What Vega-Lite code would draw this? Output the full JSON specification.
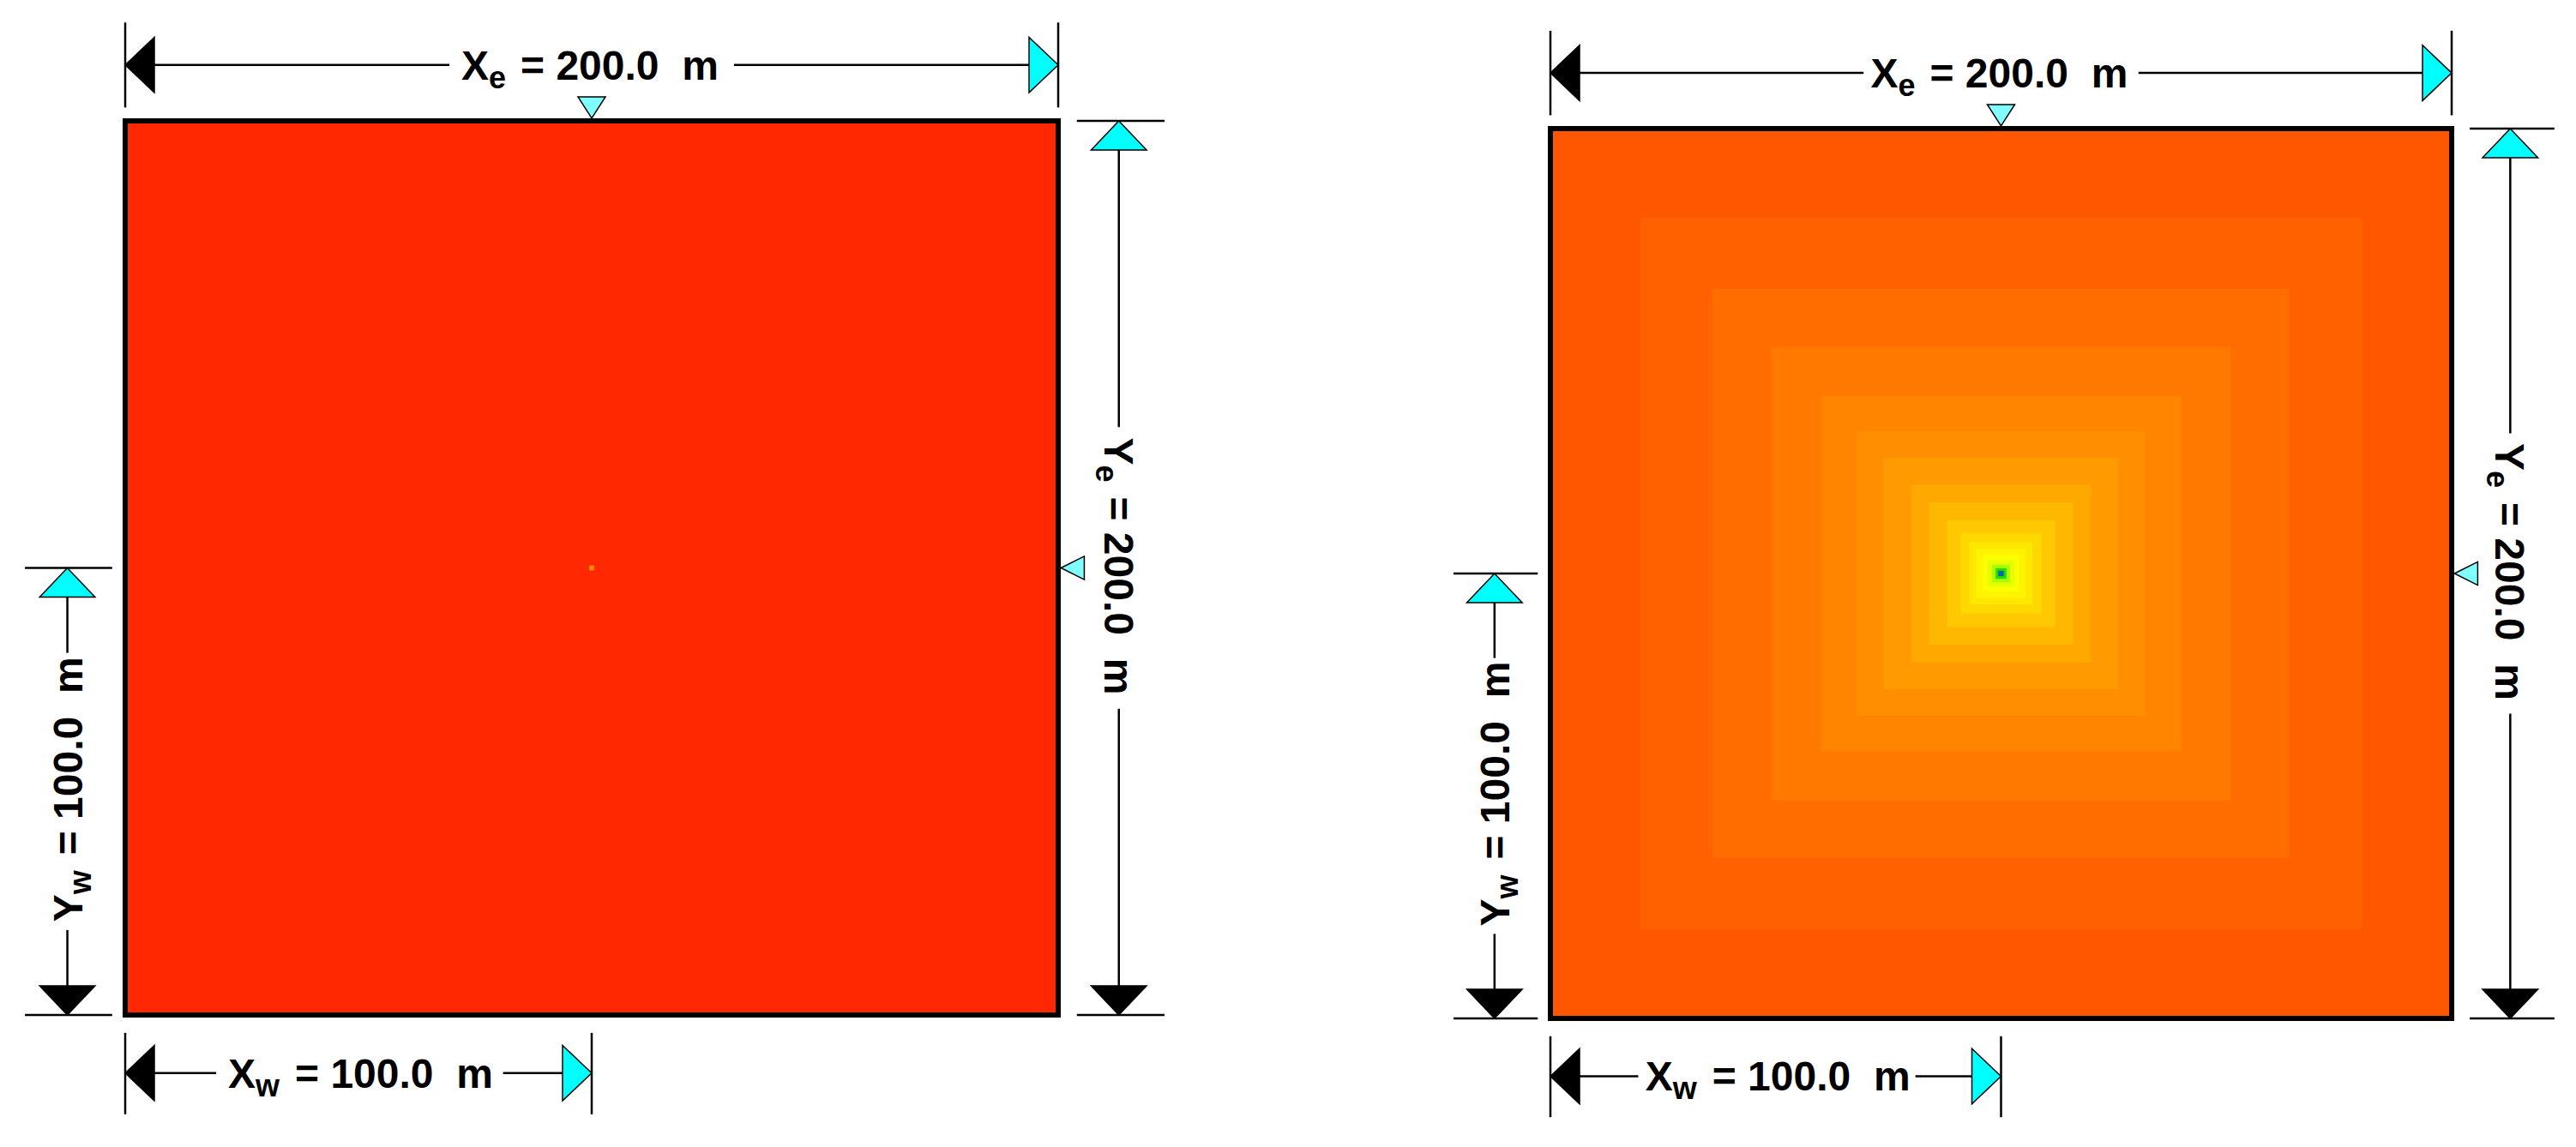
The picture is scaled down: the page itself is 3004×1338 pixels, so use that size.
{
  "$schema": "https://vega.github.io/schema/vega-lite/v6.json",
  "padding": 0,
  "spacing": 0,
  "background": "white",
  "config": {"view": {"stroke": null}, "concat": {"spacing": 0}},
  "datasets": {
    "lines": [
      {"x": 0, "y": 212.5, "x2": 69.5, "y2": 212.5},
      {"x": 130.5, "y": 212.5, "x2": 200, "y2": 212.5},
      {"x": 0, "y": 203, "x2": 0, "y2": 222},
      {"x": 200, "y": 203, "x2": 200, "y2": 222},
      {"x": 213, "y": 200, "x2": 213, "y2": 131.5},
      {"x": 213, "y": 68.5, "x2": 213, "y2": 0},
      {"x": 204, "y": 200, "x2": 222.8, "y2": 200},
      {"x": 204, "y": 0, "x2": 222.8, "y2": 0},
      {"x": -12.4, "y": 100, "x2": -12.4, "y2": 81},
      {"x": -12.4, "y": 19, "x2": -12.4, "y2": 0},
      {"x": -21.5, "y": 100, "x2": -2.8, "y2": 100},
      {"x": -21.5, "y": 0, "x2": -2.8, "y2": 0},
      {"x": 0, "y": -13, "x2": 19.5, "y2": -13},
      {"x": 81, "y": -13, "x2": 100, "y2": -13},
      {"x": 0, "y": -4, "x2": 0, "y2": -22.2},
      {"x": 100, "y": -4, "x2": 100, "y2": -22.2}
    ],
    "arrows": [
      {"x": 0, "y": 212.5, "dir": "left"},
      {"x": 200, "y": 212.5, "dir": "right"},
      {"x": 213, "y": 200, "dir": "up"},
      {"x": 213, "y": 0, "dir": "down"},
      {"x": -12.4, "y": 100, "dir": "up"},
      {"x": -12.4, "y": 0, "dir": "down"},
      {"x": 0, "y": -13, "dir": "left"},
      {"x": 100, "y": -13, "dir": "right"}
    ],
    "labels": [
      {"x": 100, "y": 212.5, "orient": "h", "main": "X", "sub": "e", "rest": "= 200.0\u00a0\u00a0m"},
      {"x": 213, "y": 100, "orient": "down", "main": "Y", "sub": "e", "rest": "= 200.0\u00a0\u00a0m"},
      {"x": -12.4, "y": 50, "orient": "up", "main": "Y", "sub": "w", "rest": "= 100.0\u00a0\u00a0m"},
      {"x": 50, "y": -13, "orient": "h", "main": "X", "sub": "w", "rest": "= 100.0\u00a0\u00a0m"}
    ],
    "frame": [{"x": 0, "x2": 200, "y": 0, "y2": 200}],
    "heatL": [
      {"x": 0, "x2": 200, "y": 0, "y2": 200, "dp": 0},
      {"x": 99.45, "x2": 100.55, "y": 99.45, "y2": 100.55, "dp": 26}
    ],
    "heatR": [
      {"x": 0, "x2": 200, "y": 0, "y2": 200, "dp": 10.5},
      {"x": 20, "x2": 180, "y": 20, "y2": 180, "dp": 13.2},
      {"x": 36, "x2": 164, "y": 36, "y2": 164, "dp": 16.8},
      {"x": 49, "x2": 151, "y": 49, "y2": 151, "dp": 20.3},
      {"x": 60, "x2": 140, "y": 60, "y2": 140, "dp": 23.8},
      {"x": 68, "x2": 132, "y": 68, "y2": 132, "dp": 27},
      {"x": 74, "x2": 126, "y": 74, "y2": 126, "dp": 30.3},
      {"x": 80, "x2": 120, "y": 80, "y2": 120, "dp": 34.4},
      {"x": 84, "x2": 116, "y": 84, "y2": 116, "dp": 39.1},
      {"x": 88, "x2": 112, "y": 88, "y2": 112, "dp": 43.8},
      {"x": 91, "x2": 109, "y": 91, "y2": 109, "dp": 48.5},
      {"x": 93, "x2": 107, "y": 93, "y2": 107, "dp": 53.2},
      {"x": 94.5, "x2": 105.5, "y": 94.5, "y2": 105.5, "dp": 56.8},
      {"x": 96, "x2": 104, "y": 96, "y2": 104, "dp": 60},
      {"x": 97, "x2": 103, "y": 97, "y2": 103, "dp": 64},
      {"x": 98, "x2": 102, "y": 98, "y2": 102, "dp": 72},
      {"x": 98.8, "x2": 101.2, "y": 98.8, "y2": 101.2, "dp": 86},
      {"x": 99.4, "x2": 100.6, "y": 99.4, "y2": 100.6, "dp": 100}
    ]
  },
  "hconcat": [
    {
      "width": 1502,
      "height": 1338,
      "encoding": {
        "x": {"field": "x", "type": "quantitative", "scale": {"domain": [-26.84, 249.26], "nice": false, "zero": false}, "axis": null},
        "y": {"field": "y", "type": "quantitative", "scale": {"domain": [-29.53, 227.04], "nice": false, "zero": false}, "axis": null}
      },
      "layer": [
        {
          "data": {"name": "heatL"},
          "mark": {"type": "rect"},
          "encoding": {
            "x2": {"field": "x2"},
            "y2": {"field": "y2"},
            "color": {"field": "dp", "type": "quantitative", "legend": null,
              "scale": {"domain": [0, 10, 60, 70, 86, 100], "range": ["#ff2800", "#ff5500", "#ffff00", "#c0ff00", "#20e000", "#1060b0"], "interpolate": "rgb"}}
          }
        },
        {
          "data": {"name": "frame"},
          "mark": {"type": "rect", "filled": false, "stroke": "black", "strokeWidth": 6},
          "encoding": {"x2": {"field": "x2"}, "y2": {"field": "y2"}}
        },
        {
          "data": {"name": "lines"},
          "mark": {"type": "rule", "color": "black", "strokeWidth": 2.5},
          "encoding": {"x2": {"field": "x2"}, "y2": {"field": "y2"}}
        },
        {
          "data": {"name": "arrows"},
          "mark": {"type": "point", "filled": true, "opacity": 1, "size": 4624, "stroke": "black", "strokeWidth": 1.5},
          "encoding": {
            "shape": {"field": "dir", "type": "nominal", "legend": null,
              "scale": {"domain": ["left", "right", "up", "down"], "range": ["M0,0L1,-0.95L1,0.95Z", "M0,0L-1,-0.95L-1,0.95Z", "M0,0L-0.95,1L0.95,1Z", "M0,0L-0.95,-1L0.95,-1Z"]}},
            "fill": {"field": "dir", "type": "nominal", "legend": null,
              "scale": {"domain": ["left", "right", "up", "down"], "range": ["black", "#00ffff", "#00ffff", "black"]}}
          }
        },
        {
          "data": {"values": [{"x": 100, "y": 200}]},
          "mark": {"type": "point", "shape": "M0,-0.2L-1,-1.75L1,-1.75Z", "size": 1024, "filled": true, "opacity": 1, "fill": "#80ffff", "stroke": "black", "strokeWidth": 1.5}
        },
        {
          "data": {"values": [{"x": 200, "y": 100}]},
          "mark": {"type": "point", "shape": "M0.2,0L1.9,-0.85L1.9,0.85Z", "size": 1024, "filled": true, "opacity": 1, "fill": "#80ffff", "stroke": "black", "strokeWidth": 1.5}
        },
        {
          "data": {"name": "labels"},
          "mark": {"type": "text", "font": "Liberation Sans", "fontWeight": "bold", "fontSize": 48, "align": "left", "baseline": "alphabetic", "dx": -152, "dy": 17, "color": "black"},
          "encoding": {"text": {"field": "main"},
            "angle": {"field": "orient", "type": "nominal", "legend": null, "scale": {"type": "ordinal", "domain": ["h", "down", "up"], "range": [0, 90, 270]}}}
        },
        {
          "data": {"name": "labels"},
          "mark": {"type": "text", "font": "Liberation Sans", "fontWeight": "bold", "fontSize": 36, "align": "left", "baseline": "alphabetic", "dx": -120, "dy": 27, "color": "black"},
          "encoding": {"text": {"field": "sub"},
            "angle": {"field": "orient", "type": "nominal", "legend": null, "scale": {"type": "ordinal", "domain": ["h", "down", "up"], "range": [0, 90, 270]}}}
        },
        {
          "data": {"name": "labels"},
          "transform": [{"filter": "datum.sub == 'e'"}],
          "mark": {"type": "text", "font": "Liberation Sans", "fontWeight": "bold", "fontSize": 48, "align": "left", "baseline": "alphabetic", "dx": -83, "dy": 17, "color": "black"},
          "encoding": {"text": {"field": "rest"},
            "angle": {"field": "orient", "type": "nominal", "legend": null, "scale": {"type": "ordinal", "domain": ["h", "down", "up"], "range": [0, 90, 270]}}}
        },
        {
          "data": {"name": "labels"},
          "transform": [{"filter": "datum.sub == 'w'"}],
          "mark": {"type": "text", "font": "Liberation Sans", "fontWeight": "bold", "fontSize": 48, "align": "left", "baseline": "alphabetic", "dx": -74, "dy": 17, "color": "black"},
          "encoding": {"text": {"field": "rest"},
            "angle": {"field": "orient", "type": "nominal", "legend": null, "scale": {"type": "ordinal", "domain": ["h", "down", "up"], "range": [0, 90, 270]}}}
        }
      ]
    },
    {
      "width": 1502,
      "height": 1338,
      "encoding": {
        "x": {"field": "x", "type": "quantitative", "scale": {"domain": [-58.23, 227.59], "nice": false, "zero": false}, "axis": null},
        "y": {"field": "y", "type": "quantitative", "scale": {"domain": [-28.9, 228.9], "nice": false, "zero": false}, "axis": null}
      },
      "layer": [
        {
          "data": {"name": "heatR"},
          "mark": {"type": "rect"},
          "encoding": {
            "x2": {"field": "x2"},
            "y2": {"field": "y2"},
            "color": {"field": "dp", "type": "quantitative", "legend": null,
              "scale": {"domain": [0, 10, 60, 70, 86, 100], "range": ["#ff2800", "#ff5500", "#ffff00", "#c0ff00", "#20e000", "#1060b0"], "interpolate": "rgb"}}
          }
        },
        {
          "data": {"name": "frame"},
          "mark": {"type": "rect", "filled": false, "stroke": "black", "strokeWidth": 6},
          "encoding": {"x2": {"field": "x2"}, "y2": {"field": "y2"}}
        },
        {
          "data": {"name": "lines"},
          "mark": {"type": "rule", "color": "black", "strokeWidth": 2.5},
          "encoding": {"x2": {"field": "x2"}, "y2": {"field": "y2"}}
        },
        {
          "data": {"name": "arrows"},
          "mark": {"type": "point", "filled": true, "opacity": 1, "size": 4624, "stroke": "black", "strokeWidth": 1.5},
          "encoding": {
            "shape": {"field": "dir", "type": "nominal", "legend": null,
              "scale": {"domain": ["left", "right", "up", "down"], "range": ["M0,0L1,-0.95L1,0.95Z", "M0,0L-1,-0.95L-1,0.95Z", "M0,0L-0.95,1L0.95,1Z", "M0,0L-0.95,-1L0.95,-1Z"]}},
            "fill": {"field": "dir", "type": "nominal", "legend": null,
              "scale": {"domain": ["left", "right", "up", "down"], "range": ["black", "#00ffff", "#00ffff", "black"]}}
          }
        },
        {
          "data": {"values": [{"x": 100, "y": 200}]},
          "mark": {"type": "point", "shape": "M0,-0.2L-1,-1.75L1,-1.75Z", "size": 1024, "filled": true, "opacity": 1, "fill": "#80ffff", "stroke": "black", "strokeWidth": 1.5}
        },
        {
          "data": {"values": [{"x": 200, "y": 100}]},
          "mark": {"type": "point", "shape": "M0.2,0L1.9,-0.85L1.9,0.85Z", "size": 1024, "filled": true, "opacity": 1, "fill": "#80ffff", "stroke": "black", "strokeWidth": 1.5}
        },
        {
          "data": {"name": "labels"},
          "mark": {"type": "text", "font": "Liberation Sans", "fontWeight": "bold", "fontSize": 48, "align": "left", "baseline": "alphabetic", "dx": -152, "dy": 17, "color": "black"},
          "encoding": {"text": {"field": "main"},
            "angle": {"field": "orient", "type": "nominal", "legend": null, "scale": {"type": "ordinal", "domain": ["h", "down", "up"], "range": [0, 90, 270]}}}
        },
        {
          "data": {"name": "labels"},
          "mark": {"type": "text", "font": "Liberation Sans", "fontWeight": "bold", "fontSize": 36, "align": "left", "baseline": "alphabetic", "dx": -120, "dy": 27, "color": "black"},
          "encoding": {"text": {"field": "sub"},
            "angle": {"field": "orient", "type": "nominal", "legend": null, "scale": {"type": "ordinal", "domain": ["h", "down", "up"], "range": [0, 90, 270]}}}
        },
        {
          "data": {"name": "labels"},
          "transform": [{"filter": "datum.sub == 'e'"}],
          "mark": {"type": "text", "font": "Liberation Sans", "fontWeight": "bold", "fontSize": 48, "align": "left", "baseline": "alphabetic", "dx": -83, "dy": 17, "color": "black"},
          "encoding": {"text": {"field": "rest"},
            "angle": {"field": "orient", "type": "nominal", "legend": null, "scale": {"type": "ordinal", "domain": ["h", "down", "up"], "range": [0, 90, 270]}}}
        },
        {
          "data": {"name": "labels"},
          "transform": [{"filter": "datum.sub == 'w'"}],
          "mark": {"type": "text", "font": "Liberation Sans", "fontWeight": "bold", "fontSize": 48, "align": "left", "baseline": "alphabetic", "dx": -74, "dy": 17, "color": "black"},
          "encoding": {"text": {"field": "rest"},
            "angle": {"field": "orient", "type": "nominal", "legend": null, "scale": {"type": "ordinal", "domain": ["h", "down", "up"], "range": [0, 90, 270]}}}
        }
      ]
    }
  ]
}
